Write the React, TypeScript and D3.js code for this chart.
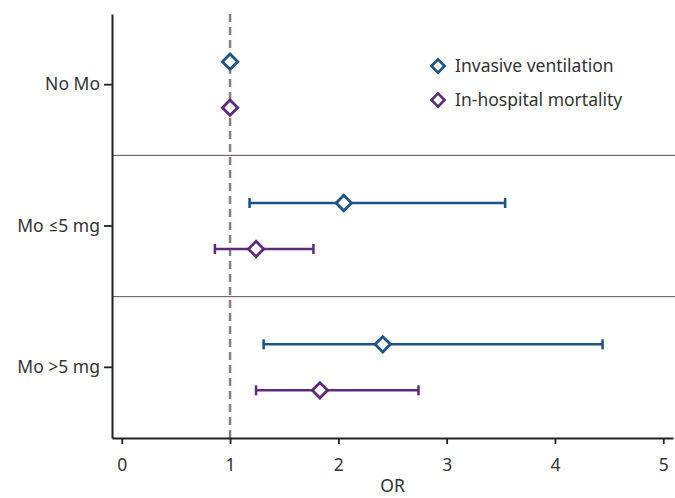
import * as d3 from "d3";
import { useEffect, useRef } from "react";

const categories = ["No Mo", "Mo ≤5 mg", "Mo >5 mg"];
const seriesNames = ["Invasive ventilation", "In-hospital mortality"];
const seriesColors = ["#1b5288", "#5c2a7a"];

// odds ratio estimates with 95% CI, one entry per category
const ventOR = [1, 2.05, 2.41];
const ventLow = [null, 1.18, 1.31];
const ventHigh = [null, 3.54, 4.44];
const mortOR = [1, 1.24, 1.83];
const mortLow = [null, 0.86, 1.24];
const mortHigh = [null, 1.77, 2.74];

const xTicks = [0, 1, 2, 3, 4, 5];

function ForestPlot() {
  const ref = useRef<SVGSVGElement>(null);

  useEffect(() => {
    const svg = d3.select(ref.current);
    svg.selectAll("*").remove();

    const width = 675;
    const height = 498;
    const margin = { top: 14, right: 2, bottom: 60, left: 112 };
    const font = "'Noto Sans', Lato, sans-serif";
    const fs = 17.5;

    const xScale = d3.scaleLinear().domain([-0.09, 5.09]).range([margin.left, width - margin.right]);
    const yScale = d3.scaleBand().domain(categories).range([margin.top, height - margin.bottom]);
    const offset = d3.scalePoint().domain(seriesNames).range([-23, 23]);

    const bottom = height - margin.bottom;

    // separators between the groups
    svg
      .append("g")
      .selectAll("line")
      .data(categories.slice(1))
      .join("line")
      .attr("x1", margin.left)
      .attr("x2", width)
      .attr("y1", (d) => yScale(d)!)
      .attr("y2", (d) => yScale(d)!)
      .attr("stroke", "#555")
      .attr("stroke-width", 1);

    // reference line at OR = 1
    svg
      .append("line")
      .attr("x1", xScale(1))
      .attr("x2", xScale(1))
      .attr("y1", margin.top)
      .attr("y2", bottom)
      .attr("stroke", "#8c7b84")
      .attr("stroke-width", 2.5)
      .attr("stroke-dasharray", "8,5");

    // x axis
    const xAxis = svg
      .append("g")
      .attr("transform", `translate(0,${bottom})`)
      .call(
        d3
          .axisBottom(xScale)
          .tickValues(xTicks)
          .tickFormat(d3.format("d"))
          .tickSize(6)
          .tickSizeOuter(0)
          .tickPadding(15)
      );
    xAxis.select(".domain").attr("stroke", "#222").attr("stroke-width", 2);
    xAxis.selectAll(".tick line").attr("stroke", "#222").attr("stroke-width", 1.8);
    xAxis
      .selectAll(".tick text")
      .attr("font-size", fs)
      .attr("font-family", font)
      .attr("fill", "#333");

    svg
      .append("text")
      .attr("x", xScale(2.5))
      .attr("y", 492)
      .attr("text-anchor", "middle")
      .attr("font-size", fs)
      .attr("font-family", font)
      .attr("fill", "#333")
      .text("OR");

    // y axis
    const yAxis = svg
      .append("g")
      .attr("transform", `translate(${margin.left},0)`)
      .call(d3.axisLeft(yScale).tickSize(8).tickSizeOuter(0).tickPadding(4));
    yAxis.select(".domain").attr("stroke", "#222").attr("stroke-width", 2);
    yAxis.selectAll(".tick line").attr("stroke", "#222").attr("stroke-width", 1.8);
    yAxis
      .selectAll(".tick text")
      .attr("font-size", fs)
      .attr("font-family", font)
      .attr("fill", "#333");

    const diamond = d3.symbol().type(d3.symbolDiamond2).size(150);

    const series = [
      { name: seriesNames[0], color: seriesColors[0], or: ventOR, low: ventLow, high: ventHigh },
      { name: seriesNames[1], color: seriesColors[1], or: mortOR, low: mortLow, high: mortHigh },
    ];

    series.forEach((s) => {
      const rows = categories.map((c, i) => ({
        y: yScale(c)! + yScale.bandwidth() / 2 + offset(s.name)!,
        or: s.or[i],
        low: s.low[i],
        high: s.high[i],
      }));
      const g = svg.append("g");
      const ci = rows.filter((r) => r.low !== null);

      g.selectAll(".ci")
        .data(ci)
        .join("line")
        .attr("x1", (d) => xScale(d.low!))
        .attr("x2", (d) => xScale(d.high!))
        .attr("y1", (d) => d.y)
        .attr("y2", (d) => d.y)
        .attr("stroke", s.color)
        .attr("stroke-width", 2.5);

      // caps on both ends
      g.selectAll(".cap")
        .data(ci.flatMap((d) => [{ x: d.low!, y: d.y }, { x: d.high!, y: d.y }]))
        .join("line")
        .attr("x1", (d) => xScale(d.x))
        .attr("x2", (d) => xScale(d.x))
        .attr("y1", (d) => d.y - 5)
        .attr("y2", (d) => d.y + 5)
        .attr("stroke", s.color)
        .attr("stroke-width", 2.5);

      g.selectAll(".pt")
        .data(rows)
        .join("path")
        .attr("d", diamond)
        .attr("transform", (d) => `translate(${xScale(d.or)},${d.y})`)
        .attr("fill", "#fff")
        .attr("stroke", s.color)
        .attr("stroke-width", 2.8);
    });

    // legend
    const legend = svg
      .append("g")
      .selectAll("g")
      .data(series)
      .join("g")
      .attr("transform", (d, i) => `translate(438,${66 + i * 34})`);
    legend
      .append("path")
      .attr("d", d3.symbol().type(d3.symbolDiamond2).size(110))
      .attr("fill", "#fff")
      .attr("stroke", (d) => d.color)
      .attr("stroke-width", 2.6);
    legend
      .append("text")
      .attr("x", 17)
      .attr("y", 6)
      .attr("font-size", fs)
      .attr("font-family", font)
      .attr("fill", "#333")
      .text((d) => d.name);
  }, []);

  return <svg ref={ref} width={675} height={498} style={{ display: "block" }} />;
}

export default function App() {
  return (
    <div style={{ position: "absolute", left: 0, top: 0 }}>
      <ForestPlot />
    </div>
  );
}
